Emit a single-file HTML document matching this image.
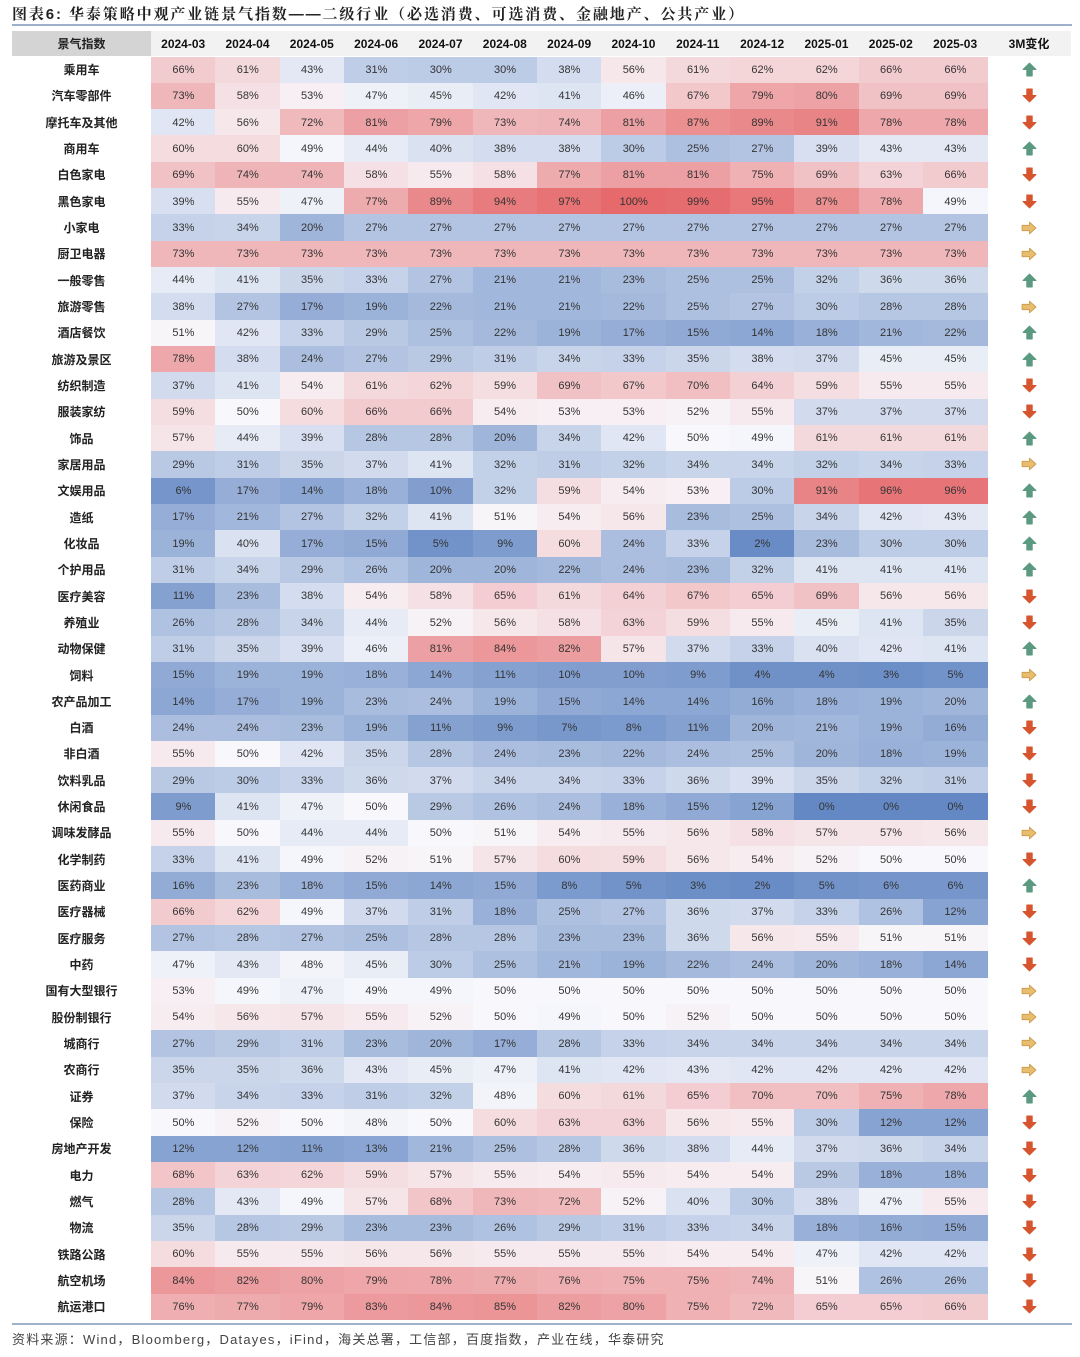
<!DOCTYPE html>
<html><head><meta charset="utf-8">
<style>
body{margin:0;background:#fff;width:1080px;height:1357px;position:relative;overflow:hidden;font-family:"Liberation Sans","Noto Sans CJK SC",sans-serif;}
#title{position:absolute;left:12px;top:3px;font-size:15px;font-weight:bold;color:#222;letter-spacing:1.9px;font-family:"Liberation Sans","Noto Serif CJK SC","Noto Sans CJK SC",sans-serif;}
#tl{position:absolute;left:12px;top:24px;width:1060px;height:2px;background:#9fb0cc;}
#bl{position:absolute;left:12px;top:1323px;width:1060px;height:2px;background:#9fb0cc;}
#src{position:absolute;left:12px;top:1329px;font-size:13px;color:#444;letter-spacing:1.2px;}
.c{position:absolute;display:flex;align-items:center;justify-content:center;font-size:11px;color:#333;}
.l{font-weight:bold;font-size:12px;color:#222;}
.h{font-size:12px;color:#222;font-weight:bold;}
</style></head><body>
<div id="title">图表6:  华泰策略中观产业链景气指数——二级行业（必选消费、可选消费、金融地产、公共产业）</div>
<div id="tl"></div>
<div id="root"></div>
<div id="bl"></div>
<div id="src">资料来源：Wind，Bloomberg，Datayes，iFind，海关总署，工信部，百度指数，产业在线，华泰研究</div>
<script>
const D=`乘用车 66 61 43 31 30 30 38 56 61 62 62 66 66 u
汽车零部件 73 58 53 47 45 42 41 46 67 79 80 69 69 d
摩托车及其他 42 56 72 81 79 73 74 81 87 89 91 78 78 d
商用车 60 60 49 44 40 38 38 30 25 27 39 43 43 u
白色家电 69 74 74 58 55 58 77 81 81 75 69 63 66 d
黑色家电 39 55 47 77 89 94 97 100 99 95 87 78 49 d
小家电 33 34 20 27 27 27 27 27 27 27 27 27 27 r
厨卫电器 73 73 73 73 73 73 73 73 73 73 73 73 73 r
一般零售 44 41 35 33 27 21 21 23 25 25 32 36 36 u
旅游零售 38 27 17 19 22 21 21 22 25 27 30 28 28 r
酒店餐饮 51 42 33 29 25 22 19 17 15 14 18 21 22 u
旅游及景区 78 38 24 27 29 31 34 33 35 38 37 45 45 u
纺织制造 37 41 54 61 62 59 69 67 70 64 59 55 55 d
服装家纺 59 50 60 66 66 54 53 53 52 55 37 37 37 d
饰品 57 44 39 28 28 20 34 42 50 49 61 61 61 u
家居用品 29 31 35 37 41 32 31 32 34 34 32 34 33 r
文娱用品 6 17 14 18 10 32 59 54 53 30 91 96 96 u
造纸 17 21 27 32 41 51 54 56 23 25 34 42 43 u
化妆品 19 40 17 15 5 9 60 24 33 2 23 30 30 u
个护用品 31 34 29 26 20 20 22 24 23 32 41 41 41 u
医疗美容 11 23 38 54 58 65 61 64 67 65 69 56 56 d
养殖业 26 28 34 44 52 56 58 63 59 55 45 41 35 d
动物保健 31 35 39 46 81 84 82 57 37 33 40 42 41 u
饲料 15 19 19 18 14 11 10 10 9 4 4 3 5 r
农产品加工 14 17 19 23 24 19 15 14 14 16 18 19 20 u
白酒 24 24 23 19 11 9 7 8 11 20 21 19 16 d
非白酒 55 50 42 35 28 24 23 22 24 25 20 18 19 d
饮料乳品 29 30 33 36 37 34 34 33 36 39 35 32 31 d
休闲食品 9 41 47 50 29 26 24 18 15 12 0 0 0 d
调味发酵品 55 50 44 44 50 51 54 55 56 58 57 57 56 r
化学制药 33 41 49 52 51 57 60 59 56 54 52 50 50 d
医药商业 16 23 18 15 14 15 8 5 3 2 5 6 6 u
医疗器械 66 62 49 37 31 18 25 27 36 37 33 26 12 d
医疗服务 27 28 27 25 28 28 23 23 36 56 55 51 51 d
中药 47 43 48 45 30 25 21 19 22 24 20 18 14 d
国有大型银行 53 49 47 49 49 50 50 50 50 50 50 50 50 r
股份制银行 54 56 57 55 52 50 49 50 52 50 50 50 50 r
城商行 27 29 31 23 20 17 28 33 34 34 34 34 34 r
农商行 35 35 36 43 45 47 41 42 43 42 42 42 42 r
证券 37 34 33 31 32 48 60 61 65 70 70 75 78 u
保险 50 52 50 48 50 60 63 63 56 55 30 12 12 d
房地产开发 12 12 11 13 21 25 28 36 38 44 37 36 34 d
电力 68 63 62 59 57 55 54 55 54 54 29 18 18 d
燃气 28 43 49 57 68 73 72 52 40 30 38 47 55 d
物流 35 28 29 23 23 26 29 31 33 34 18 16 15 d
铁路公路 60 55 55 56 56 55 55 55 54 54 47 42 42 d
航空机场 84 82 80 79 78 77 76 75 75 74 51 26 26 d
航运港口 76 77 79 83 84 85 82 80 75 72 65 65 66 d`.split('\n').map(s=>s.trim().split(' '));
const months=['2024-03','2024-04','2024-05','2024-06','2024-07','2024-08','2024-09','2024-10','2024-11','2024-12','2025-01','2025-02','2025-03'];
const X0=151,CW=64.33,Y0=56.5,RH=26.32;
function col(v){const W=[248,248,252];let e,t;
 if(v>=50){e=[230,106,108];t=(v-50)/50;}else{e=[99,136,196];t=(50-v)/50;}
 return 'rgb('+W.map((w,i)=>Math.round(w+(e[i]-w)*t)).join(',')+')';}
const ic={u:'<svg width="15" height="15" viewBox="0 0 14 14"><path d="M7 1 L13 7 L9.5 7 L9.5 13 L4.5 13 L4.5 7 L1 7 Z" fill="#5b9a80" stroke="#5b9a80" stroke-linejoin="round" stroke-width="1"/></svg>',
d:'<svg width="15" height="15" viewBox="0 0 14 14"><path d="M7 13 L13 7 L9.5 7 L9.5 1 L4.5 1 L4.5 7 L1 7 Z" fill="#d6542e" stroke="#d6542e" stroke-linejoin="round" stroke-width="1"/></svg>',
r:'<svg width="16" height="14" viewBox="0 0 15 13"><path d="M14 6.5 L8 1 L8 4 L1 4 L1 9 L8 9 L8 12 Z" fill="#e8bd6e" stroke="#c99a4a" stroke-linejoin="round" stroke-width="0.8"/></svg>'};
let h='';
h+=`<div class="c h" style="left:12px;top:31px;width:139px;height:25px;background:#d4d4d4">景气指数</div>`;
h+=`<div class="c" style="left:151px;top:31px;width:920px;height:25px;background:#f2f2f2"></div>`;
months.forEach((m,i)=>h+=`<div class="c h" style="left:${X0+i*CW}px;top:31px;width:${CW}px;height:25px;font-size:12px;color:#111">${m}</div>`);
h+=`<div class="c h" style="left:988px;top:31px;width:82px;height:25px;color:#111">3M变化</div>`;
D.forEach((r,j)=>{const y=Y0+j*RH;
 h+=`<div class="c l" style="left:12px;top:${y}px;width:139px;height:${RH}px">${r[0]}</div>`;
 for(let i=0;i<13;i++){const v=+r[i+1];
  h+=`<div class="c" style="left:${X0+i*CW}px;top:${y}px;width:${CW+0.5}px;height:${RH+0.5}px;background:${col(v)}">${v}%</div>`;}
 h+=`<div class="c" style="left:988px;top:${y}px;width:82px;height:${RH}px">${ic[r[14]]}</div>`;
});
document.getElementById('root').innerHTML=h;
</script>
</body></html>
